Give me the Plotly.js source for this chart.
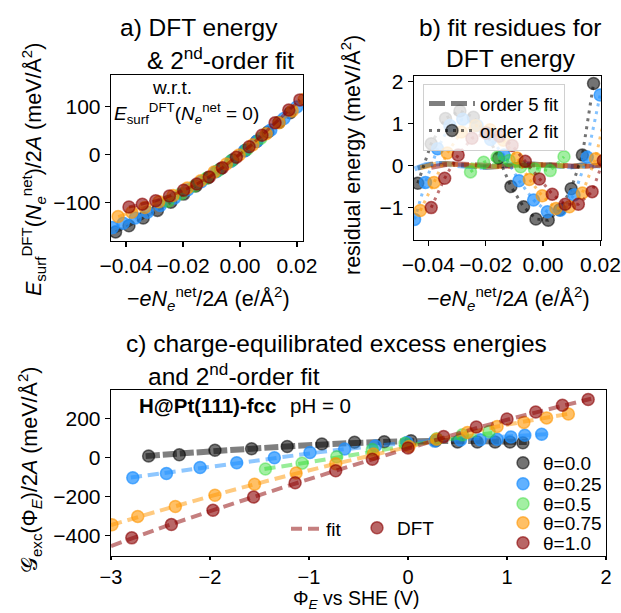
<!DOCTYPE html>
<html><head><meta charset="utf-8">
<script src="https://cdn.plot.ly/plotly-3.0.1.min.js"></script>
<style>html,body{margin:0;padding:0;background:#fff}#chart{width:621px;height:613px}</style>
</head><body><div id="chart"></div>
<script>
// ---------- DATA ----------
const thetaNames = ['θ=0.0','θ=0.25','θ=0.5','θ=0.75','θ=1.0'];

// panel a/b : surface charge  -eN/2A (e/Å^2)
const q0   = [-0.0437,-0.0390,-0.0340,-0.0290,-0.0243,-0.0198,-0.0155,-0.0112,-0.0068,-0.0025,0.0018,0.0058,0.0098,0.0137,0.0176];
const q25  = [-0.0448,-0.0410,-0.0368,-0.0325,-0.0280,-0.0230,-0.0183,-0.0136,-0.0084,-0.0033,0.0015,0.0060,0.0108,0.0154,0.0199];
const q50  = [-0.0253,-0.0207,-0.0160,-0.0118,-0.0078,-0.0030,0.0025,0.0073];
const q75  = [-0.0428,-0.0380,-0.0334,-0.0285,-0.0235,-0.0185,-0.0138,-0.0091,-0.0048,-0.0003,0.0045,0.0092,0.0137,0.0183,0.0225];
const q100 = [-0.0390,-0.0343,-0.0296,-0.0248,-0.0198,-0.0152,-0.0108,-0.0062,-0.0013,0.0032,0.0077,0.0123,0.0171,0.0210];

// panel a : DFT energy (meV/Å^2)
const E0   = [-162,-149,-133,-117,-100,-83,-66,-49,-30,-11,8,27,47,67,87];
const E25  = [-153,-144,-133,-121,-107,-91,-74,-57,-36,-15,7,28,51,75,99];
const E50  = [-98,-82,-66,-50,-34,-13,11,34];
const E75  = [-130,-121,-111,-99,-86,-70,-55,-37,-20,-1,20,43,66,91,115];
const E100 = [-110,-104,-97,-87,-75,-62,-47,-28,-6,16,40,66,93,114];

// panel b : residues of order-2 fit
const r2_0   = [-0.42,0.52,1.12,1.30,1.15,0.78,0.18,-0.50,-0.98,-1.27,-1.30,-1.05,-0.55,0.25,1.95];
const r2_25  = [-1.28,-0.40,0.40,0.95,1.10,0.95,0.62,0.25,-0.36,-0.82,-1.10,-1.06,-0.70,0.20,1.68];
const r2_50  = [-0.15,0.08,0.20,0.12,-0.03,-0.08,-0.12,0.21];
const r2_75  = [-1.07,-0.40,0.30,0.80,0.95,0.85,0.60,0.18,-0.33,-0.72,-1.02,-0.98,-0.65,0.16,1.50];
const r2_100 = [-1.00,-0.30,0.25,0.65,0.77,0.70,0.48,0.10,-0.32,-0.68,-0.92,-0.92,-0.62,0.12];
// panel b : residues of order-5 fit
const r5_0   = [-0.06,0.03,0.05,0.02,-0.02,-0.04,-0.02,0.02,0.04,0.03,0.00,-0.03,-0.03,0.02,-0.02];
const r5_25  = [-0.08,0.02,0.05,0.03,-0.01,-0.04,-0.03,0.01,0.03,0.03,0.01,-0.02,-0.03,0.01,-0.01];
const r5_50  = [0.02,-0.03,0.01,0.03,0.00,-0.03,0.02,-0.01];
const r5_75  = [-0.05,0.02,0.04,0.02,-0.02,-0.03,-0.02,0.01,0.03,0.02,0.00,-0.02,-0.02,0.02,-0.03];
const r5_100 = [-0.04,0.02,0.04,0.02,-0.01,-0.03,-0.02,0.01,0.02,0.02,0.00,-0.02,-0.01,0.02];

// panel c : charge-equilibrated excess energies vs potential
const phi0   = [-2.62,-2.31,-1.95,-1.58,-1.22,-0.87,-0.54,-0.24,0.03,0.28,0.50,0.70,0.88,1.03,1.16];
const G0     = [7,13,36,44,55,68,77,80,85,85,79,78,78,78,75];
const phi25  = [-2.78,-2.44,-2.10,-1.73,-1.35,-0.99,-0.64,-0.33,-0.01,0.27,0.53,0.73,0.90,1.04,1.18,1.35];
const G25    = [-105,-83,-52,-28,-2,25,42,58,76,83,89,90,92,104,113,118];
const phi50  = [-1.44,-1.07,-0.72,-0.36,-0.03,0.29,0.55,0.82];
const G50    = [-60,-30,3,40,72,95,115,132];
const phi75  = [-2.99,-2.73,-2.35,-1.95,-1.55,-1.13,-0.73,-0.35,0.01,0.29,0.60,0.90,1.17,1.40,1.62];
const G75    = [-346,-303,-252,-195,-138,-80,-33,17,55,93,127,158,179,202,222];
const phi100 = [-2.79,-2.39,-1.97,-1.56,-1.14,-0.73,-0.36,0.00,0.36,0.69,1.00,1.29,1.56,1.82];
const G100   = [-413,-345,-272,-204,-131,-69,-10,48,106,155,196,232,267,296];
// panel c : 2nd-order fit curves
const fitPhi0   = [-2.65,-2.0,-1.3,-0.6,0.0,0.6,1.2];
const fitG0     = [6,30,53,72,82,83,78];
const fitPhi25  = [-2.8,-2.2,-1.5,-0.8,0.0,0.7,1.4];
const fitG25    = [-104,-63,-15,32,74,98,118];
const fitPhi50  = [-1.45,-1.0,-0.5,0.0,0.4,0.85];
const fitG50    = [-60,-25,17,60,92,125];
const fitPhi75  = [-3.0,-2.4,-1.6,-0.8,0.0,0.8,1.65];
const fitG75    = [-348,-258,-145,-42,53,147,225];
const fitPhi100 = [-3.0,-2.4,-1.6,-0.8,0.0,0.8,1.85];
const fitG100   = [-455,-345,-210,-80,45,165,300];

// ---------- STYLE ----------
const FONT = 'Liberation Sans, Arial, Helvetica, sans-serif';
const W = 621, H = 613;
const X = p => p / W, Y = p => 1 - p / H;
const base = [[0,0,0],[30,144,255],[50,220,50],[255,150,0],[139,0,0]];
const alphaM = [0.55,0.7,0.45,0.6,0.6];
const rgba = (i,a) => `rgba(${base[i][0]},${base[i][1]},${base[i][2]},${a})`;

const Q = [q0,q25,q50,q75,q100], E = [E0,E25,E50,E75,E100];
const R2 = [r2_0,r2_25,r2_50,r2_75,r2_100], R5 = [r5_0,r5_25,r5_50,r5_75,r5_100];
const PHI = [phi0,phi25,phi50,phi75,phi100], G = [G0,G25,G50,G75,G100];
const FPHI = [fitPhi0,fitPhi25,fitPhi50,fitPhi75,fitPhi100], FG = [fitG0,fitG25,fitG50,fitG75,fitG100];

const MS = 12;
const mk = i => ({size: MS, color: rgba(i, alphaM[i]), line: {color: rgba(i, alphaM[i]), width: 1.5}});
const thetaLegY = [463, 484, 504, 523, 543];

const traces = [];
// panel a
for (let i = 0; i < 5; i++) {
  traces.push({x: Q[i], y: E[i], xaxis: 'x', yaxis: 'y', type: 'scatter', mode: 'lines+markers',
    marker: mk(i), line: {color: rgba(i, 0.5), width: 3, dash: '8px,4px'}, showlegend: false, hoverinfo: 'skip'});
}
// panel b
for (let i = 0; i < 5; i++) {
  traces.push({x: Q[i], y: R5[i], xaxis: 'x2', yaxis: 'y2', type: 'scatter', mode: 'lines',
    line: {color: rgba(i, 0.5), width: 5, dash: '16px,6px'},
    name: 'order 5 fit', showlegend: i === 0, legend: 'legend', legendrank: 1});
}
for (let i = 0; i < 5; i++) {
  traces.push({x: Q[i], y: R2[i], xaxis: 'x2', yaxis: 'y2', type: 'scatter', mode: 'lines+markers',
    marker: mk(i), line: {color: rgba(i, 0.55), width: 3, dash: '3px,5px'},
    name: 'order 2 fit', showlegend: i === 0, legend: 'legend', legendrank: 2});
}
// panel c
for (let i = 0; i < 5; i++) {
  traces.push({x: FPHI[i], y: FG[i], xaxis: 'x3', yaxis: 'y3', type: 'scatter', mode: 'lines',
    line: {color: rgba(i, 0.5), width: i === 0 ? 6 : 4, dash: i === 0 ? '14px,3px' : '11px,6px', shape: 'spline'},
    name: 'fit', showlegend: i === 4, legend: 'legend2'});
  traces.push({x: PHI[i], y: G[i], xaxis: 'x3', yaxis: 'y3', type: 'scatter', mode: 'markers',
    marker: mk(i), name: thetaNames[i], showlegend: true, legend: 'legend' + (3 + i)});
}
// legend-only entry for DFT points
traces.push({x: [null], y: [null], xaxis: 'x3', yaxis: 'y3', type: 'scatter', mode: 'markers',
  marker: mk(4), name: 'DFT', showlegend: true, legend: 'legend8'});

const axBase = {showline: true, mirror: true, linecolor: '#000', linewidth: 1.3, ticks: 'outside',
  ticklen: 5, tickwidth: 1.3, tickcolor: '#000', showgrid: false, zeroline: false,
  tickfont: {family: FONT, size: 21, color: '#000'}};

const ann = (text, x, y, opt = {}) => Object.assign({text, x: X(x), y: Y(y), xref: 'paper', yref: 'paper',
  showarrow: false, xanchor: 'center', yanchor: 'middle', font: {family: FONT, size: 21.5, color: '#000'}}, opt);
const tf = {family: FONT, size: 24.5, color: '#000'};
const xq = '−<i>eN</i><sub><i>e</i></sub><sup>net</sup>/2<i>A</i> (e/Å<sup>2</sup>)';

const singleLeg = (x, y, size) => ({x: X(x), y: Y(y), xanchor: 'left', yanchor: 'middle',
  bgcolor: 'rgba(0,0,0,0)', borderwidth: 0, font: {family: FONT, size: size, color: '#000'}});

const layout = {
  width: W, height: H, margin: {l: 0, r: 0, t: 0, b: 0},
  paper_bgcolor: '#fff', plot_bgcolor: '#fff',
  font: {family: FONT, size: 19, color: '#000'},
  xaxis: Object.assign({}, axBase, {domain: [X(111), X(303)], anchor: 'y', range: [-0.0453, 0.0221],
    tickvals: [-0.04, -0.02, 0, 0.02], ticktext: ['−0.04', '−0.02', '0.00', '0.02']}),
  yaxis: Object.assign({}, axBase, {domain: [Y(241), Y(75)], anchor: 'x', range: [-181, 166],
    tickvals: [-100, 0, 100]}),
  xaxis2: Object.assign({}, axBase, {domain: [X(414), X(601)], anchor: 'y2', range: [-0.045, 0.0202],
    tickvals: [-0.04, -0.02, 0, 0.02], ticktext: ['−0.04', '−0.02', '0.00', '0.02']}),
  yaxis2: Object.assign({}, axBase, {domain: [Y(240), Y(76)], anchor: 'x2', range: [-1.77, 2.13],
    tickvals: [-1, 0, 1, 2]}),
  xaxis3: Object.assign({}, axBase, {domain: [X(111), X(606)], anchor: 'y3', range: [-3, 2], dtick: 1,
    ticklen: 3, tickfont: {family: FONT, size: 20, color: '#000'}}),
  yaxis3: Object.assign({}, axBase, {domain: [Y(556), Y(390)], anchor: 'x3', range: [-506, 345],
    tickvals: [-400, -200, 0, 200]}),
  legend: {x: X(423), y: Y(84), xanchor: 'left', yanchor: 'top', bgcolor: 'rgba(255,255,255,0.8)',
    bordercolor: '#d0d0d0', borderwidth: 1, itemwidth: 46,
    font: {family: FONT, size: 18.5, color: '#000'}, traceorder: 'normal'},
  legend2: singleLeg(286, 529, 19),
  legend8: singleLeg(357, 528, 19),
  annotations: [
    ann('a) DFT energy', 199, 27, {font: tf}),
    ann('&amp; 2<sup>nd</sup>-order fit', 220, 58, {font: tf}),
    ann('b) fit residues for', 510, 27, {font: tf}),
    ann('DFT energy', 511, 58, {font: tf}),
    ann('c) charge-equilibrated excess energies', 124, 343, {xanchor: 'left', font: tf}),
    ann('and 2<sup>nd</sup>-order fit', 146, 374, {xanchor: 'left', font: tf}),
    ann('w.r.t.', 172, 88, {font: {family: FONT, size: 19, color: '#000'}}),
    ann('<i>E</i><sub>surf</sub><sup>DFT</sup>(<i>N</i><sub><i>e</i></sub><sup>net</sup> = 0)', 186, 114, {font: {family: FONT, size: 19, color: '#000'}}),
    ann('<b>H@Pt(111)-fcc</b>', 137, 405, {xanchor: 'left', font: {family: FONT, size: 20.5, color: '#000'}}),
    ann('pH = 0', 288, 405, {xanchor: 'left', font: {family: FONT, size: 20.5, color: '#000'}}),
    ann(xq, 208, 298),
    ann(xq, 508, 298),
    ann('<i>E</i><sub>surf</sub><sup>DFT</sup>(<i>N</i><sub><i>e</i></sub><sup>net</sup>)/2<i>A</i> (meV/Å<sup>2</sup>)', 33, 170, {textangle: -90}),
    ann('residual energy (meV/Å<sup>2</sup>)', 351, 155, {textangle: -90}),
    ann('Φ<sub><i>E</i></sub> vs SHE (V)', 356, 613, {yanchor: 'bottom', borderpad: 0, font: {family: FONT, size: 19.5, color: '#000'}}),
    ann('𝒢<sub>exc</sub>(Φ<sub><i>E</i></sub>)/2<i>A</i> (meV/Å<sup>2</sup>)', 29, 470, {textangle: -90})
  ]
};
for (let i = 0; i < 5; i++) layout['legend' + (3 + i)] = singleLeg(503, thetaLegY[i], 19);

Plotly.newPlot('chart', traces, layout, {staticPlot: true, displayModeBar: false});
</script>
</body></html>
